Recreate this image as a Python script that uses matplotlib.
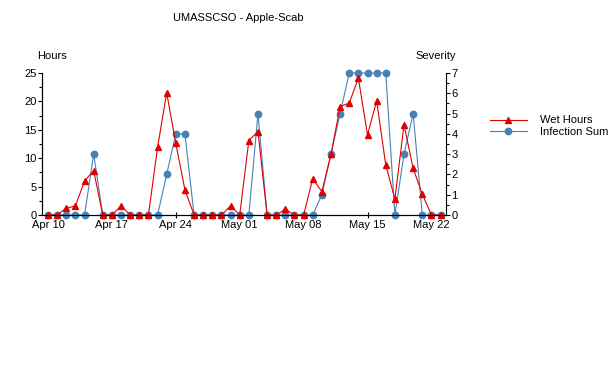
import numpy as np
import pandas as pd
import matplotlib
matplotlib.use("Agg")
import matplotlib.pyplot as plt
import matplotlib.dates as mdates
from matplotlib.ticker import MultipleLocator

# daily values, Apr 10 .. May 23
days = pd.date_range("2011-04-10", "2011-05-23", freq="D")
wet_hours = [0, 0, 1.2, 1.6, 6.0, 7.8, 0, 0, 1.6, 0, 0, 0, 11.9, 21.5, 12.6, 4.4,
             0, 0, 0, 0, 1.6, 0, 13.1, 14.7, 0, 0, 1.0, 0, 0, 6.4, 4.1, 10.7,
             19.1, 19.7, 24.1, 14.1, 20.1, 8.8, 2.8, 15.9, 8.2, 3.7, 0, 0]
infection_sum = [0, 0, 0, 0, 0, 3, 0, 0, 0, 0, 0, 0, 0, 2, 4, 4,
                 0, 0, 0, 0, 0, 0, 0, 5, 0, 0, 0, 0, 0, 0, 1, 3,
                 5, 7, 7, 7, 7, 7, 0, 3, 5, 0, 0, 0]
tick_days = pd.date_range("2011-04-10", "2011-05-22", freq="7D")

red = "#e00000"
blue = "#4682b4"

plt.rcParams["font.family"] = "Liberation Sans"
plt.rcParams["font.size"] = 8

fig = plt.figure(figsize=(6.16, 3.84), dpi=100)
ax = fig.add_axes([42/616, 1-215/384, 404/616, 142/384])
ax2 = ax.twinx()

ax2.plot(days, infection_sum, color=blue, lw=0.8, marker="o", ms=4.6,
         clip_on=False, label="Infection Sum")
ax.plot(days, wet_hours, color=red, lw=0.8, marker="^", ms=5,
        clip_on=False, label="Wet Hours")
ax.set_zorder(ax2.get_zorder() + 1)
ax.patch.set_visible(False)

x0 = days[0] - pd.Timedelta(days=0.66)
x1 = days[0] + pd.Timedelta(days=43.6)
ax.set_xlim(x0, x1)
ax.set_ylim(0, 25)
ax2.set_ylim(0, 7)

ax.set_xticks(tick_days)
ax.xaxis.set_major_formatter(mdates.DateFormatter("%b %d"))
ax.yaxis.set_major_locator(MultipleLocator(5))
ax.yaxis.set_minor_locator(MultipleLocator(2.5))
ax2.yaxis.set_major_locator(MultipleLocator(1))
ax2.yaxis.set_minor_locator(MultipleLocator(0.5))

for a in (ax, ax2):
    a.spines["top"].set_visible(False)
    a.tick_params(which="both", direction="out", length=3, width=0.8, pad=1)
    a.tick_params(which="minor", length=2)
ax.spines["right"].set_visible(False)
ax.tick_params(axis="x", direction="inout", length=5)

ax.text(-0.013, 1.12, "Hours", transform=ax.transAxes, ha="left", va="center")
ax2.text(0.975, 1.12, "Severity", transform=ax2.transAxes, ha="center", va="center")
fig.text(238/616, 1-18/384, "UMASSCSO - Apple-Scab", ha="center", va="center")

h1, l1 = ax.get_legend_handles_labels()
h2, l2 = ax2.get_legend_handles_labels()
fig.legend(h1 + h2, l1 + l2, loc="center left", bbox_to_anchor=(480/616, 1-126/384),
           frameon=False, handlelength=3.3, labelspacing=0.1, handletextpad=1.2)

fig.savefig("out.png", dpi=100)
